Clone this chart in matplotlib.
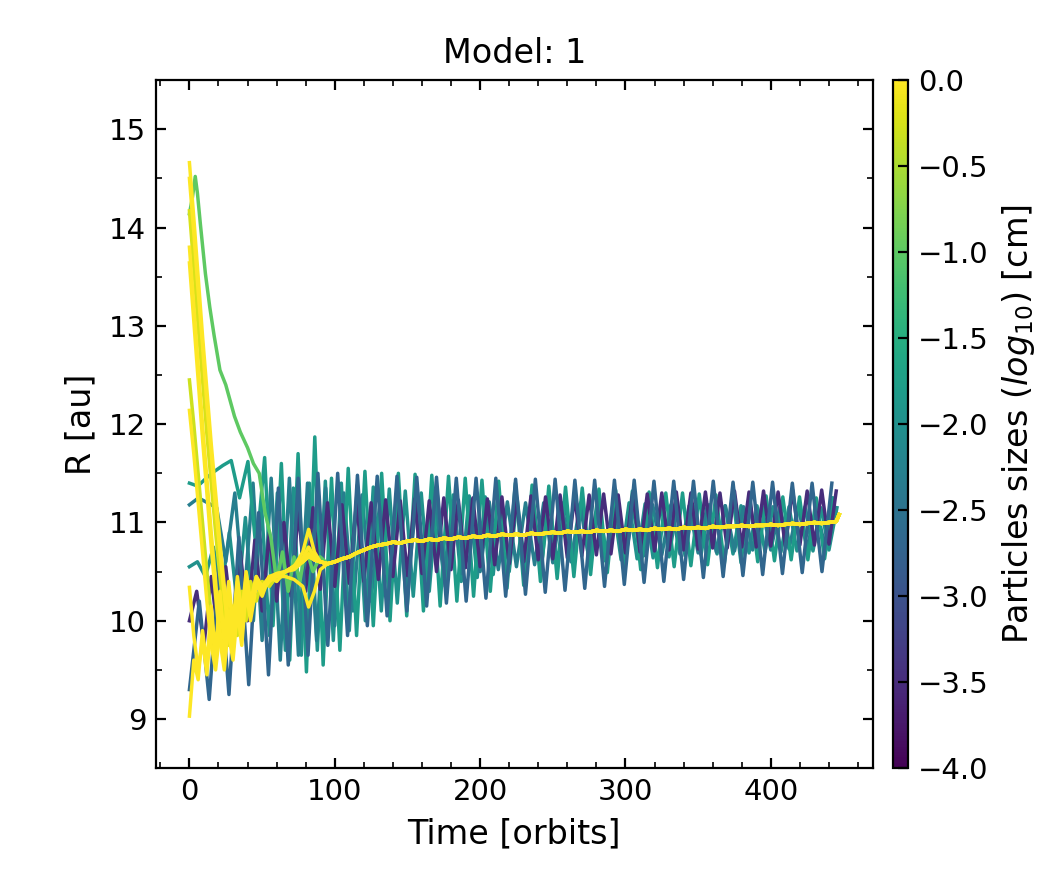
#!/usr/bin/env python3
"""Radial drift of dust particles of several sizes (Model 1)."""

import matplotlib
matplotlib.use("Agg")
import matplotlib.pyplot as plt
import numpy as np
from matplotlib.cm import ScalarMappable
from matplotlib.colors import Normalize
from matplotlib.ticker import AutoMinorLocator, MultipleLocator

# ---------------------------------------------------------------------------
# data
# oscillating particles: sampled every half period (alternating extrema)
# ---------------------------------------------------------------------------
PURPLE_SIZE = -3.5
PURPLE_DT = 5.0
PURPLE_R = [
    10.00, 10.30, 9.75, 10.45, 9.80, 10.55, 9.90, 10.70, 10.00, 10.82,
    10.10, 10.90, 10.20, 11.00, 10.25, 11.12, 10.30, 11.15, 10.32, 11.20,
    10.35, 11.18, 10.38, 11.22, 10.40, 11.20, 10.42, 11.23, 10.45, 11.22,
    10.46, 11.24, 10.48, 11.22, 10.50, 11.25, 10.52, 11.23, 10.54, 11.25,
    10.55, 11.24, 10.57, 11.26, 10.58, 11.25, 10.60, 11.27, 10.62, 11.26,
    10.63, 11.28, 10.64, 11.27, 10.66, 11.28, 10.67, 11.29, 10.68, 11.28,
    10.69, 11.30, 10.70, 11.29, 10.71, 11.30, 10.72, 11.31, 10.72, 11.30,
    10.73, 11.31, 10.74, 11.30, 10.74, 11.32, 10.75, 11.31, 10.75, 11.32,
    10.76, 11.31, 10.76, 11.33, 10.77, 11.32, 10.77, 11.33, 10.78, 11.32,
]

BLUE_SIZE = -2.7
BLUE_DT = 6.8
BLUE_R = [
    9.30, 10.20, 9.20, 10.55, 9.25, 10.85, 9.35, 11.10, 9.45, 11.35,
    9.55, 11.45, 9.65, 11.50, 9.75, 11.50, 9.85, 11.48, 9.95, 11.47,
    10.05, 11.47, 10.10, 11.46, 10.15, 11.46, 10.18, 11.45, 10.20, 11.45,
    10.23, 11.45, 10.25, 11.44, 10.27, 11.44, 10.29, 11.44, 10.31, 11.43,
    10.33, 11.43, 10.35, 11.43, 10.37, 11.43, 10.39, 11.42, 10.40, 11.42,
    10.42, 11.42, 10.44, 11.42, 10.45, 11.41, 10.46, 11.41, 10.47, 11.41,
    10.48, 11.40, 10.49, 11.40, 10.50, 11.40,
]

TEAL1_SIZE = -1.8
TEAL1_DT = 5.75
TEAL1_R = [
    11.40, 11.37, 11.45, 11.52, 11.58, 11.63,
    11.25, 11.62, 10.70, 11.66, 9.95, 11.60, 9.60, 11.70, 9.48, 11.87,
    9.55, 11.45, 9.70, 11.55, 9.85, 11.52, 9.95, 11.50, 10.00, 11.50,
    10.05, 11.49, 10.10, 11.48, 10.15, 11.47, 10.20, 11.45, 10.25, 11.43,
    10.30, 11.42, 10.33, 11.40, 10.36, 11.38, 10.40, 11.37, 10.43, 11.36,
    10.45, 11.35, 10.47, 11.34, 10.49, 11.33, 10.51, 11.32, 10.52, 11.31,
    10.54, 11.30, 10.55, 11.30, 10.56, 11.29, 10.57, 11.28, 10.58, 11.28,
    10.59, 11.27, 10.60, 11.27, 10.61, 11.26, 10.62, 11.26, 10.62, 11.25,
    10.63, 11.25,
]

TEAL2_SIZE = -2.3
TEAL2_DT = 6.25
TEAL2_R = [
    11.18, 11.25, 11.20, 11.15,
    10.60, 11.30, 10.20, 11.40, 9.80, 11.45, 9.60, 11.45, 9.65, 11.40,
    9.80, 11.35, 9.95, 11.30, 10.10, 11.28, 10.20, 11.26, 10.30, 11.25,
    10.35, 11.24, 10.40, 11.23, 10.45, 11.22, 10.48, 11.22, 10.50, 11.21,
    10.52, 11.21, 10.55, 11.20, 10.57, 11.20, 10.59, 11.20, 10.60, 11.19,
    10.62, 11.19, 10.63, 11.19, 10.65, 11.18, 10.66, 11.18, 10.67, 11.18,
    10.68, 11.17, 10.69, 11.17, 10.70, 11.17, 10.71, 11.16, 10.72, 11.16,
    10.72, 11.16, 10.73, 11.16, 10.74, 11.15, 10.74, 11.15,
]

TEAL3_SIZE = -2.0
TEAL3_DT = 5.5
TEAL3_R = [
    10.55, 10.60, 10.45, 10.75, 10.30, 10.90, 10.15, 11.05, 10.00, 11.20,
    9.85, 11.30, 9.70, 11.35, 9.65, 11.40, 9.70, 11.42, 9.80, 11.40,
    9.90, 11.38, 10.00, 11.36, 10.10, 11.34, 10.18, 11.32, 10.25, 11.30,
    10.30, 11.29, 10.35, 11.28, 10.40, 11.27, 10.44, 11.26, 10.47, 11.25,
    10.50, 11.24, 10.52, 11.23, 10.54, 11.22, 10.56, 11.22, 10.58, 11.21,
    10.60, 11.21, 10.61, 11.20, 10.62, 11.20, 10.63, 11.19, 10.64, 11.19,
    10.65, 11.18, 10.66, 11.18, 10.67, 11.18, 10.68, 11.17, 10.68, 11.17,
    10.69, 11.17, 10.70, 11.16, 10.70, 11.16, 10.71, 11.16, 10.71, 11.15,
    10.72, 11.15,
]

# large grains: fast inward drift, then they settle on a common track
EARLY_T = [0, 3, 6, 9, 12, 15, 18, 21, 24, 27, 30, 33, 36, 39, 42,
           46, 50, 55, 60, 66, 72, 78, 82, 86, 90]
Y1_R = [14.66, 14.10, 13.50, 12.90, 12.35, 11.80, 11.30, 10.80, 10.35, 9.95,
        9.70, 10.20, 9.85, 10.35, 10.05, 10.40, 10.25, 10.45, 10.40, 10.50,
        10.55, 10.70, 10.93, 10.70, 10.60]
Y2_R = [14.50, 13.95, 13.35, 12.80, 12.20, 11.70, 11.15, 10.70, 10.25, 9.85,
        9.60, 10.10, 9.75, 10.30, 10.00, 10.35, 10.30, 10.40, 10.45, 10.45,
        10.42, 10.35, 10.14, 10.30, 10.52]
Y3_R = [13.80, 13.20, 12.60, 12.00, 11.45, 10.90, 10.40, 9.90, 9.60, 10.10,
        9.70, 10.25, 9.90, 10.35, 10.10, 10.40, 10.30, 10.45, 10.45, 10.50,
        10.55, 10.62, 10.68, 10.62, 10.60]
Y4_R = [13.64, 13.05, 12.45, 11.85, 11.30, 10.75, 10.25, 9.80, 9.50, 10.00,
        9.75, 10.20, 9.95, 10.30, 10.15, 10.35, 10.30, 10.42, 10.48, 10.50,
        10.56, 10.64, 10.75, 10.65, 10.60]
Y5_R = [12.14, 11.70, 11.20, 10.70, 10.20, 9.75, 9.50, 9.90, 9.60, 10.10,
        9.80, 10.25, 9.95, 10.30, 10.15, 10.38, 10.30, 10.42, 10.45, 10.50,
        10.55, 10.60, 10.65, 10.62, 10.60]
Y6_R = [10.34, 9.85, 9.50, 9.80, 9.45, 10.00, 9.60, 10.20, 9.75, 10.35,
        9.90, 10.40, 10.00, 10.45, 10.15, 10.45, 10.30, 10.45, 10.45, 10.50,
        10.52, 10.60, 10.68, 10.62, 10.60]
Y7_R = [9.03, 9.60, 9.40, 9.90, 9.55, 10.15, 9.65, 10.30, 9.80, 10.40,
        9.95, 10.45, 10.05, 10.50, 10.20, 10.45, 10.35, 10.45, 10.48, 10.50,
        10.55, 10.60, 10.66, 10.62, 10.60]
YG1_R = [14.17, 13.60, 13.00, 12.45, 11.90, 11.40, 10.90, 10.45, 10.05, 9.75,
         10.15, 9.85, 10.30, 10.00, 10.40, 10.20, 10.40, 10.35, 10.45, 10.50,
         10.55, 10.62, 10.70, 10.64, 10.60]
YG2_R = [12.45, 12.00, 11.50, 11.00, 10.50, 10.05, 9.70, 10.10, 9.75, 10.25,
         9.90, 10.35, 10.05, 10.40, 10.20, 10.42, 10.32, 10.44, 10.46, 10.50,
         10.54, 10.60, 10.66, 10.62, 10.60]
YG_SIZES = [-0.25, -0.3]
Y_SIZES = [0.0, 0.0, 0.0, 0.0, 0.0, 0.0, 0.0]

GREEN_SIZE = -1.0
GREEN_T = [0, 2, 4, 5.5, 7.5, 11, 14, 17, 21, 25, 28, 31, 35, 40, 44, 48,
           52, 56, 60, 64, 68, 72, 76, 80, 85, 90]
GREEN_R = [14.14, 14.30, 14.52, 14.35, 14.04, 13.53, 13.19, 12.90, 12.55,
           12.40, 12.24, 12.08, 11.92, 11.76, 11.60, 11.50, 11.10, 10.85,
           10.40, 10.70, 10.30, 10.65, 10.40, 10.75, 10.50, 10.65]

# common late track of the big grains, every 5 orbits from t = 95
TRACK_T0 = 95.0
TRACK_DT = 5.0
TRACK_R = [
    10.58, 10.60, 10.63, 10.65, 10.69, 10.72, 10.75, 10.77, 10.78, 10.80,
    10.79, 10.81, 10.82, 10.81, 10.83, 10.82, 10.84, 10.83, 10.85, 10.84,
    10.86, 10.85, 10.87, 10.86, 10.88, 10.87, 10.88, 10.87, 10.89, 10.88,
    10.89, 10.90, 10.89, 10.91, 10.90, 10.91, 10.90, 10.92, 10.91, 10.92,
    10.91, 10.93, 10.92, 10.93, 10.92, 10.94, 10.93, 10.94, 10.93, 10.95,
    10.94, 10.95, 10.94, 10.96, 10.95, 10.96, 10.96, 10.97, 10.96, 10.97,
    10.97, 10.98, 10.97, 10.98, 10.99, 10.98, 10.99, 11.00, 10.99, 11.00,
    11.01,
]
TRACK_END_T = 447.0
TRACK_END_R = 11.08

SIZE_MIN, SIZE_MAX = -4.0, 0.0
CBAR_TICKS = [-4.0, -3.5, -3.0, -2.5, -2.0, -1.5, -1.0, -0.5, 0.0]


def regular(values, dt, t0=0.0):
    return t0 + dt * np.arange(len(values)), np.asarray(values)


def main() -> None:
    plt.rcParams["font.family"] = "DejaVu Sans"
    cmap = plt.get_cmap("viridis")
    norm = Normalize(vmin=SIZE_MIN, vmax=SIZE_MAX)

    track_t, track_r = regular(TRACK_R, TRACK_DT, TRACK_T0)
    track_t = np.append(track_t, TRACK_END_T)
    track_r = np.append(track_r, TRACK_END_R)

    # drawing order: teal grains at the back, then purple, blue, big grains
    curves = []
    for size, r, dt in [
        (TEAL3_SIZE, TEAL3_R, TEAL3_DT),
        (TEAL2_SIZE, TEAL2_R, TEAL2_DT),
        (TEAL1_SIZE, TEAL1_R, TEAL1_DT),
        (PURPLE_SIZE, PURPLE_R, PURPLE_DT),
        (BLUE_SIZE, BLUE_R, BLUE_DT),
    ]:
        t, rr = regular(r, dt)
        curves.append((size, t, rr))

    curves.append((GREEN_SIZE,
                   np.concatenate([GREEN_T, track_t]),
                   np.concatenate([GREEN_R, track_r])))

    big = list(zip(YG_SIZES, [YG1_R, YG2_R])) + list(
        zip(Y_SIZES, [Y1_R, Y2_R, Y3_R, Y4_R, Y5_R, Y6_R, Y7_R]))
    for size, r in big:
        curves.append((size,
                       np.concatenate([EARLY_T, track_t]),
                       np.concatenate([r, track_r])))

    fig = plt.figure(figsize=(5.2, 4.4), dpi=200)
    ax = fig.add_axes([0.150, 0.127, 0.689, 0.782])
    cax = fig.add_axes([0.859, 0.127, 0.014, 0.782])

    for size, t, r in curves:
        ax.plot(t, r, color=cmap(norm(size)), lw=1.25)

    ax.set_xlim(-23, 470)
    ax.set_ylim(8.5, 15.5)
    ax.xaxis.set_major_locator(MultipleLocator(100))
    ax.xaxis.set_minor_locator(AutoMinorLocator(5))
    ax.yaxis.set_major_locator(MultipleLocator(1))
    ax.yaxis.set_minor_locator(AutoMinorLocator(2))
    ax.tick_params(which="both", direction="in", top=True, right=True,
                   labelsize=10.5)
    ax.set_xlabel("Time [orbits]", fontsize=12)
    ax.set_ylabel("R [au]", fontsize=12)
    ax.set_title("Model: 1", fontsize=12)

    sm = ScalarMappable(norm=norm, cmap=cmap)
    cbar = fig.colorbar(sm, cax=cax, ticks=CBAR_TICKS)
    cbar.ax.tick_params(direction="in", labelsize=10.5)
    cbar.set_label(r"Particles sizes ($log_{10}$) [cm]", fontsize=12)

    fig.savefig("out.png", dpi=200)
    plt.close(fig)


if __name__ == "__main__":
    main()
